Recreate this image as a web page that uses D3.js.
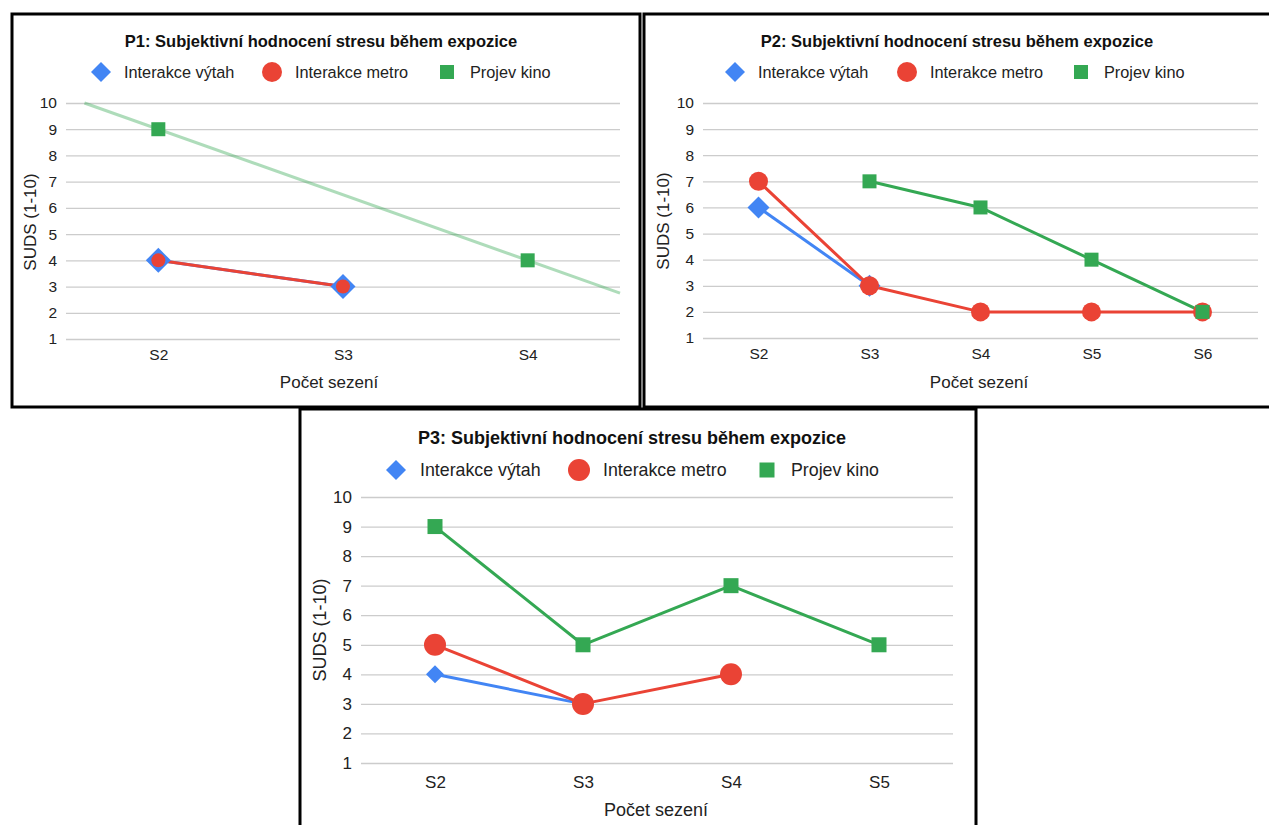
<!DOCTYPE html>
<html><head><meta charset="utf-8">
<script src="https://cdn.jsdelivr.net/npm/d3@7"></script>
<style>body{margin:0;background:#fff;}svg{display:block;font-family:"Liberation Sans",Arial,sans-serif;}</style>
</head><body>
<svg id="c" width="1269" height="825"></svg>
<script>
// ---- data ----
const yTicks = [1,2,3,4,5,6,7,8,9,10];
const seriesNames = ["Interakce výtah","Interakce metro","Projev kino"];
const xAxisTitle = "Počet sezení";
const yAxisTitle = "SUDS (1-10)";

const p1Title = "P1: Subjektivní hodnocení stresu během expozice";
const p1Categories = ["S2","S3","S4"];
const p1Vytah = [4,3,null];
const p1Metro = [4,3,null];
const p1Kino  = [9,null,4];

const p2Title = "P2: Subjektivní hodnocení stresu během expozice";
const p2Categories = ["S2","S3","S4","S5","S6"];
const p2Vytah = [6,3,null,null,null];
const p2Metro = [7,3,2,2,2];
const p2Kino  = [null,7,6,4,2];

const p3Title = "P3: Subjektivní hodnocení stresu během expozice";
const p3Categories = ["S2","S3","S4","S5"];
const p3Vytah = [4,3,null,null];
const p3Metro = [5,3,4,null];
const p3Kino  = [9,5,7,5];

// ---- styles ----
const colors = {vytah:"#4285F4", metro:"#EA4335", kino:"#34A853"};
const svg = d3.select("#c");

function drawPanel(cfg){
  const g = svg.append("g");
  const y = d3.scaleLinear().domain([1,10]).range([cfg.plot.bottom, cfg.plot.top]);
  const x = d3.scalePoint().domain(cfg.categories).range([cfg.plot.left, cfg.plot.right]).padding(0.5);

  // grid + y labels
  const yAxis = g.append("g").attr("transform",`translate(${cfg.plot.left},0)`)
    .call(d3.axisLeft(y).tickValues(yTicks).tickSize(-(cfg.plot.right-cfg.plot.left)).tickPadding(9).tickFormat(d3.format("d")));
  yAxis.select(".domain").remove();
  yAxis.selectAll(".tick line").attr("stroke","#cccccc").attr("stroke-width",1.3);
  yAxis.selectAll(".tick text").attr("font-size",cfg.tickFont).attr("fill","#222").attr("font-family","Liberation Sans, Arial, sans-serif");

  const xAxis = g.append("g").attr("transform",`translate(0,${cfg.plot.bottom})`)
    .call(d3.axisBottom(x).tickSize(0).tickPadding(cfg.xTickPad));
  xAxis.select(".domain").remove();
  xAxis.selectAll(".tick text").attr("font-size",cfg.tickFont).attr("fill","#222").attr("font-family","Liberation Sans, Arial, sans-serif");

  // axis titles
  g.append("text").attr("x",(cfg.xTitleX)).attr("y",cfg.xTitleY).attr("text-anchor","middle")
    .attr("font-size",cfg.axisFont).attr("fill","#222").text(xAxisTitle);
  g.append("text").attr("transform",`translate(${cfg.yTitleX},${cfg.yTitleY}) rotate(-90)`).attr("text-anchor","middle")
    .attr("font-size",cfg.axisFont).attr("fill","#222").text(yAxisTitle);

  // title
  g.append("text").attr("x",cfg.titleX).attr("y",cfg.titleY).attr("text-anchor","middle")
    .attr("font-size",cfg.titleFont).attr("font-weight","bold").attr("fill","#111").text(cfg.title);

  const series = [
    {key:"vytah", vals:cfg.vytah, shape:"diamond"},
    {key:"metro", vals:cfg.metro, shape:"circle"},
    {key:"kino", vals:cfg.kino, shape:"square"}
  ];

  // trendline (P1 only)
  if(cfg.trend){
    const pts = cfg.kino.map((v,i)=>v==null?null:[i,v]).filter(d=>d);
    const mx = d3.mean(pts,d=>d[0]), my = d3.mean(pts,d=>d[1]);
    const slope = d3.sum(pts,d=>(d[0]-mx)*(d[1]-my))/d3.sum(pts,d=>(d[0]-mx)**2);
    const icpt = my - slope*mx;
    const step = x.step();
    const idxAt = px => (px - x(cfg.categories[0]))/step;
    let i0 = idxAt(cfg.plot.left), i1 = idxAt(cfg.plot.right);
    const iTop = (10 - icpt)/slope;
    if(slope<0 && iTop>i0) i0 = iTop;
    const px = i => x(cfg.categories[0]) + i*step;
    g.append("line").attr("x1",px(i0)).attr("y1",y(icpt+slope*i0)).attr("x2",px(i1)).attr("y2",y(icpt+slope*i1))
      .attr("stroke",colors.kino).attr("stroke-opacity",0.4).attr("stroke-width",3);
  }

  // lines
  const line = d3.line().x(d=>x(d.c)).y(d=>y(d.v));
  series.forEach(s=>{
    if(cfg.noLine && cfg.noLine.includes(s.key)) return;
    const data = cfg.categories.map((c,i)=>({c, v:s.vals[i]})).filter(d=>d.v!=null);
    if(data.length<2) return;
    g.append("path").datum(data).attr("d",line).attr("fill","none")
      .attr("stroke",colors[s.key]).attr("stroke-width",cfg.lineW).attr("stroke-linejoin","round");
  });

  function marker(sel, shape, cx, cy, sz, col){
    if(shape==="diamond"){
      sel.append("path").attr("d",`M${cx},${cy-sz.d}L${cx+sz.d},${cy}L${cx},${cy+sz.d}L${cx-sz.d},${cy}Z`).attr("fill",col);
    } else if(shape==="circle"){
      sel.append("circle").attr("cx",cx).attr("cy",cy).attr("r",sz.c).attr("fill",col);
    } else {
      sel.append("rect").attr("x",cx-sz.s).attr("y",cy-sz.s).attr("width",2*sz.s).attr("height",2*sz.s).attr("fill",col);
    }
  }
  series.forEach(s=>{
    cfg.categories.forEach((c,i)=>{
      if(s.vals[i]==null) return;
      marker(g, s.shape, x(c), y(s.vals[i]), cfg.mk, colors[s.key]);
    });
  });

  // legend
  series.forEach((s,i)=>{
    const lx = cfg.legendX[i];
    marker(g, s.shape, lx, cfg.legendY, cfg.lmk, colors[s.key]);
    g.append("text").attr("x",lx+cfg.legendGap).attr("y",cfg.legendY).attr("dy","0.35em")
      .attr("font-size",cfg.legendFont).attr("fill","#222").text(seriesNames[i]);
  });

  // border
  svg.append("rect").attr("x",cfg.box.x).attr("y",cfg.box.y).attr("width",cfg.box.w).attr("height",cfg.box.h)
    .attr("fill","none").attr("stroke","#000").attr("stroke-width",3);
}

drawPanel({
  title:p1Title, categories:p1Categories, vytah:p1Vytah, metro:p1Metro, kino:p1Kino, trend:true, noLine:["kino"],
  box:{x:12,y:14,w:628,h:393}, plot:{left:66,right:620,top:103,bottom:339},
  titleX:321, titleY:47, titleFont:16.5, legendY:72, legendX:[101,272,447], legendGap:23, legendFont:16.3,
  tickFont:15.5, axisFont:17, xTickPad:10, xTitleX:329, xTitleY:388, yTitleX:36, yTitleY:222, lineW:3,
  mk:{d:12.5,c:7,s:7}, lmk:{d:10,c:10,s:7}
});
drawPanel({
  title:p2Title, categories:p2Categories, vytah:p2Vytah, metro:p2Metro, kino:p2Kino,
  box:{x:644,y:14,w:640,h:393}, plot:{left:703,right:1258,top:103,bottom:338},
  titleX:957, titleY:47, titleFont:16.5, legendY:72, legendX:[735,907,1081], legendGap:23, legendFont:16.3,
  tickFont:15.5, axisFont:17, xTickPad:10, xTitleX:979, xTitleY:388, yTitleX:669, yTitleY:221, lineW:3,
  mk:{d:11,c:9.5,s:7}, lmk:{d:10,c:10,s:7}
});
drawPanel({
  title:p3Title, categories:p3Categories, vytah:p3Vytah, metro:p3Metro, kino:p3Kino,
  box:{x:300,y:409,w:676,h:430}, plot:{left:361,right:953,top:497,bottom:763},
  titleX:632, titleY:444, titleFont:18, legendY:470, legendX:[396,579,767], legendGap:24, legendFont:17.8,
  tickFont:17, axisFont:18, xTickPad:13, xTitleX:656, xTitleY:816, yTitleX:326, yTitleY:630, lineW:3,
  mk:{d:9,c:11,s:7.5}, lmk:{d:10,c:11,s:7.5}
});
</script>
</body></html>
